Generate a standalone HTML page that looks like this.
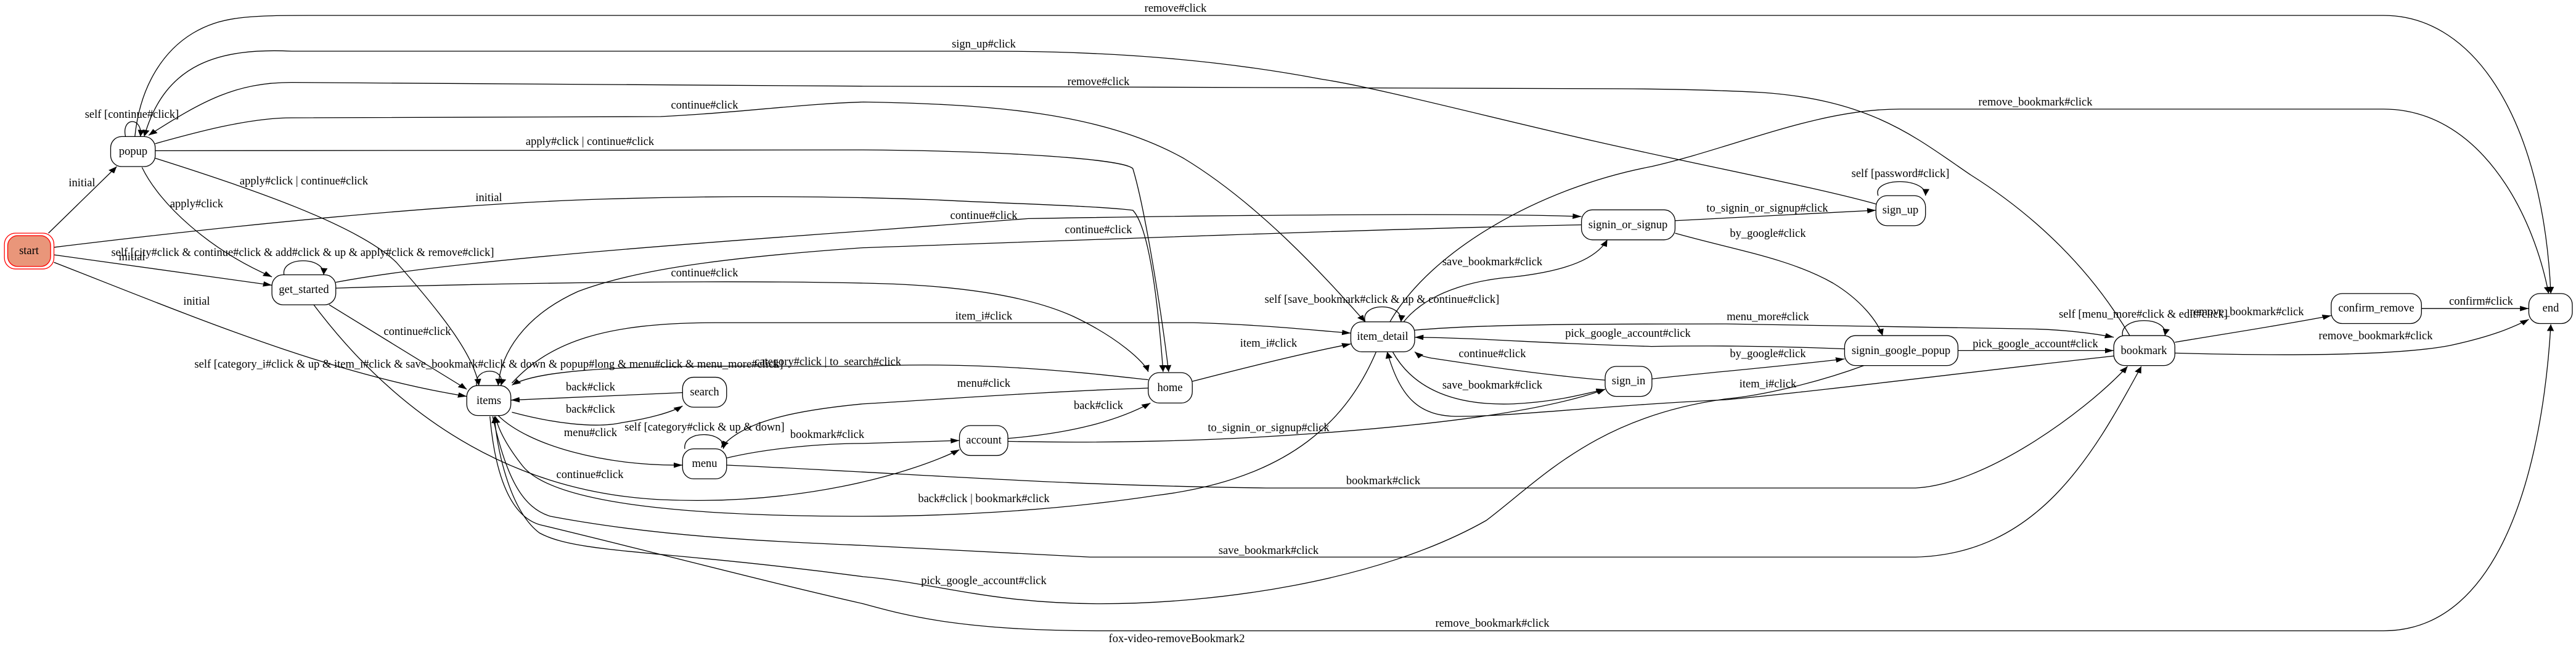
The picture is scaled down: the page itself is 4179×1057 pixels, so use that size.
<!DOCTYPE html>
<html><head><meta charset="utf-8"><style>
html,body{margin:0;padding:0;background:#fff;}
svg{display:block;}
text{font-family:"Liberation Serif",serif;font-size:18.5px;fill:#000;}
</style></head><body>
<svg width="4179" height="1057" viewBox="0 0 4179 1057" xmlns="http://www.w3.org/2000/svg">
<defs>
<marker id="a" viewBox="0 0 10 10" refX="10" refY="5" markerWidth="16" markerHeight="16" markerUnits="userSpaceOnUse" orient="auto"><path d="M0,1 L10,5 L0,9 z" fill="#000"/></marker>
</defs>
<rect width="4179" height="1057" fill="#fff"/>
<g transform="scale(0.893,0.675)" fill="none" stroke="#000">
<g stroke-width="1.3" vector-effect="non-scaling-stroke" marker-end="url(#a)">
<path vector-effect="non-scaling-stroke" d="M245,328 C255,200 300,120 350,80 C400,40 450,37 560,37 L4330,37 C4500,37 4620,300 4634,705"/>
<path vector-effect="non-scaling-stroke" d="M3408,490 C3300,450 3100,400 2900,340 C2700,280 2500,210 2400,190 C2200,140 2000,123 1800,123 L530,123 C400,115 300,150 262,328"/>
<path vector-effect="non-scaling-stroke" d="M3869,806 C3800,650 3700,520 3580,420 C3480,330 3400,240 3200,222 C3100,215 3000,213 2900,213 L1568,207 L530,198 C430,198 370,240 270,325"/>
<path vector-effect="non-scaling-stroke" d="M282,345 C350,320 450,283 530,283 L1200,280 C1350,270 1450,250 1568,245 C1800,250 2000,270 2150,380 C2300,500 2430,700 2480,773"/>
<path vector-effect="non-scaling-stroke" d="M282,362 L1568,360 C1800,362 2040,380 2058,405 C2080,500 2110,750 2123,893"/>
<path vector-effect="non-scaling-stroke" d="M98,594 C400,545 800,490 1100,478 C1300,470 1500,470 1700,480 C1850,490 2000,495 2058,505 C2090,550 2105,750 2113,893"/>
<path vector-effect="non-scaling-stroke" d="M282,380 C450,450 650,540 720,630 C800,750 860,850 870,926"/>
<path vector-effect="non-scaling-stroke" d="M258,402 C290,490 380,600 494,665"/>
<path vector-effect="non-scaling-stroke" d="M88,560 L212,400"/>
<path vector-effect="non-scaling-stroke" d="M98,612 L494,685"/>
<path vector-effect="non-scaling-stroke" d="M98,630 C350,760 600,900 848,952"/>
<path vector-effect="non-scaling-stroke" d="M516,660 C510,615 590,615 588,660"/>
<path vector-effect="non-scaling-stroke" d="M610,678 C800,630 1200,590 1568,555 L1868,525 C2300,515 2700,512 2873,520"/>
<path vector-effect="non-scaling-stroke" d="M2873,540 C2500,550 2000,575 1568,595 C1300,620 1150,650 1050,700 C950,760 910,850 905,926"/>
<path vector-effect="non-scaling-stroke" d="M610,692 C900,680 1300,672 1568,680 C1700,683 1850,700 1950,760 C2030,810 2080,870 2086,893"/>
<path vector-effect="non-scaling-stroke" d="M228,328 C220,280 260,280 255,328"/>
<path vector-effect="non-scaling-stroke" d="M598,732 L848,935"/>
<path vector-effect="non-scaling-stroke" d="M570,732 C700,960 900,1180 1200,1200 C1450,1215 1650,1140 1743,1080"/>
<path vector-effect="non-scaling-stroke" d="M930,920 C1000,820 1100,775 1300,775 L2168,775 C2300,780 2400,795 2454,800"/>
<path vector-effect="non-scaling-stroke" d="M2086,912 C2000,900 1800,866 1568,880 C1300,880 1000,870 930,925"/>
<path vector-effect="non-scaling-stroke" d="M866,926 C860,880 920,880 910,926"/>
<path vector-effect="non-scaling-stroke" d="M1240,943 L928,961"/>
<path vector-effect="non-scaling-stroke" d="M930,990 C1000,1015 1080,1030 1130,1015 C1180,1005 1220,990 1240,975"/>
<path vector-effect="non-scaling-stroke" d="M905,998 C960,1070 1100,1120 1240,1117"/>
<path vector-effect="non-scaling-stroke" d="M1244,1078 C1240,1030 1320,1035 1314,1078"/>
<path vector-effect="non-scaling-stroke" d="M2086,932 C1900,940 1700,960 1568,970 C1450,985 1350,1010 1310,1075"/>
<path vector-effect="non-scaling-stroke" d="M1320,1100 C1400,1075 1500,1065 1568,1065 L1743,1058"/>
<path vector-effect="non-scaling-stroke" d="M1320,1117 C1700,1140 1900,1165 2300,1172 L3480,1172 C3600,1165 3780,1000 3865,880"/>
<path vector-effect="non-scaling-stroke" d="M2500,845 C2450,1000 2350,1150 2100,1190 C1900,1230 1700,1240 1568,1240 C1200,1240 1000,1200 950,1120 C920,1070 905,1030 900,1000"/>
<path vector-effect="non-scaling-stroke" d="M895,1000 C920,1150 950,1220 1000,1240 C1200,1290 1400,1300 1568,1310 L1980,1338 L3480,1338 C3700,1330 3800,1100 3890,880"/>
<path vector-effect="non-scaling-stroke" d="M3386,878 C3300,920 3200,950 3136,958 C2900,1000 2800,1150 2700,1250 C2500,1400 2200,1450 2000,1450 C1800,1450 1700,1400 1568,1385 C1200,1320 1050,1330 980,1280 C930,1230 905,1100 898,1000"/>
<path vector-effect="non-scaling-stroke" d="M890,1000 C900,1150 930,1240 980,1260 C1200,1330 1400,1400 1568,1450 C1650,1480 1750,1515 2000,1515 L4330,1515 C4550,1515 4620,1100 4634,779"/>
<path vector-effect="non-scaling-stroke" d="M3043,530 L3408,505"/>
<path vector-effect="non-scaling-stroke" d="M3043,560 C3150,600 3250,620 3330,680 C3380,720 3410,770 3420,806"/>
<path vector-effect="non-scaling-stroke" d="M3412,470 C3400,425 3500,425 3498,470"/>
<path vector-effect="non-scaling-stroke" d="M2480,773 C2470,725 2550,725 2545,773"/>
<path vector-effect="non-scaling-stroke" d="M2550,773 C2600,690 2700,670 2750,665 C2850,650 2900,620 2920,576"/>
<path vector-effect="non-scaling-stroke" d="M2525,773 C2600,600 2800,450 3000,400 C3150,355 3300,262 3451,262 L4330,262 C4500,262 4600,500 4630,705"/>
<path vector-effect="non-scaling-stroke" d="M2570,793 C2700,778 2900,778 3136,778 L3690,790 C3750,792 3800,800 3840,810"/>
<path vector-effect="non-scaling-stroke" d="M3351,838 C3200,830 3100,830 3000,832 C2800,825 2700,812 2570,810"/>
<path vector-effect="non-scaling-stroke" d="M2916,913 C2800,900 2700,880 2600,860 C2580,855 2575,850 2570,845"/>
<path vector-effect="non-scaling-stroke" d="M3001,910 C3100,895 3200,885 3351,862"/>
<path vector-effect="non-scaling-stroke" d="M3840,855 C3600,890 3300,940 3136,960 C2900,975 2750,1000 2650,1000 C2580,1000 2545,960 2520,845"/>
<path vector-effect="non-scaling-stroke" d="M2530,845 C2570,940 2650,975 2750,970 C2830,965 2880,945 2916,935"/>
<path vector-effect="non-scaling-stroke" d="M3557,842 L3840,842"/>
<path vector-effect="non-scaling-stroke" d="M3856,806 C3850,758 3940,758 3933,806"/>
<path vector-effect="non-scaling-stroke" d="M3951,822 C4050,800 4150,780 4235,758"/>
<path vector-effect="non-scaling-stroke" d="M4399,741 L4594,741"/>
<path vector-effect="non-scaling-stroke" d="M3951,848 C4150,855 4350,855 4450,830 C4520,810 4560,790 4594,767"/>
<path vector-effect="non-scaling-stroke" d="M2166,916 C2300,870 2400,840 2454,826"/>
<path vector-effect="non-scaling-stroke" d="M1831,1053 C1950,1040 2030,1010 2090,968"/>
<path vector-effect="non-scaling-stroke" d="M1831,1060 C2000,1065 2200,1060 2400,1040 C2600,1020 2800,990 2916,935"/>
</g>
<g fill="#fff" stroke-width="1.3">
<rect vector-effect="non-scaling-stroke" x="8" y="560" width="90" height="86" rx="20" ry="27" stroke="#f00"/>
<rect vector-effect="non-scaling-stroke" x="14" y="566" width="78" height="74" rx="18" ry="24" stroke="#f00" fill="#E9967A"/>
<rect vector-effect="non-scaling-stroke" x="201" y="328" width="81" height="72" rx="20" ry="27"/>
<rect vector-effect="non-scaling-stroke" x="494" y="660" width="116" height="72" rx="20" ry="27"/>
<rect vector-effect="non-scaling-stroke" x="848" y="926" width="80" height="72" rx="20" ry="27"/>
<rect vector-effect="non-scaling-stroke" x="1240" y="906" width="80" height="72" rx="20" ry="27"/>
<rect vector-effect="non-scaling-stroke" x="1240" y="1078" width="80" height="72" rx="20" ry="27"/>
<rect vector-effect="non-scaling-stroke" x="2086" y="895" width="80" height="73" rx="20" ry="27"/>
<rect vector-effect="non-scaling-stroke" x="1743" y="1022" width="88" height="72" rx="20" ry="27"/>
<rect vector-effect="non-scaling-stroke" x="2454" y="773" width="116" height="72" rx="20" ry="27"/>
<rect vector-effect="non-scaling-stroke" x="2873" y="504" width="170" height="72" rx="20" ry="27"/>
<rect vector-effect="non-scaling-stroke" x="2916" y="880" width="85" height="72" rx="20" ry="27"/>
<rect vector-effect="non-scaling-stroke" x="3408" y="470" width="90" height="72" rx="20" ry="27"/>
<rect vector-effect="non-scaling-stroke" x="3351" y="806" width="206" height="72" rx="20" ry="27"/>
<rect vector-effect="non-scaling-stroke" x="3840" y="806" width="111" height="72" rx="20" ry="27"/>
<rect vector-effect="non-scaling-stroke" x="4235" y="705" width="164" height="72" rx="20" ry="27"/>
<rect vector-effect="non-scaling-stroke" x="4594" y="705" width="79" height="72" rx="20" ry="27"/>
</g>
</g>
<g text-anchor="middle" dominant-baseline="central">
<text x="47" y="407">start</text>
<text x="216" y="246">popup</text>
<text x="493" y="470">get_started</text>
<text x="793" y="650">items</text>
<text x="1143" y="636">search</text>
<text x="1143" y="752">menu</text>
<text x="1898" y="629">home</text>
<text x="1596" y="714">account</text>
<text x="2243" y="546">item_detail</text>
<text x="2641" y="365">signin_or_signup</text>
<text x="2642" y="618">sign_in</text>
<text x="3083" y="341">sign_up</text>
<text x="3084" y="569">signin_google_popup</text>
<text x="3478" y="569">bookmark</text>
<text x="3855" y="500">confirm_remove</text>
<text x="4138" y="500">end</text>

<text x="1907" y="14">remove#click</text>
<text x="1596" y="72">sign_up#click</text>
<text x="1782" y="133">remove#click</text>
<text x="1143" y="171">continue#click</text>
<text x="957" y="230">apply#click | continue#click</text>
<text x="793" y="321">initial</text>
<text x="493" y="294">apply#click | continue#click</text>
<text x="319" y="331">apply#click</text>
<text x="133" y="297">initial</text>
<text x="491" y="410">self [city#click &amp; continue#click &amp; add#click &amp; up &amp; apply#click &amp; remove#click]</text>
<text x="214" y="417">initial</text>
<text x="319" y="489">initial</text>
<text x="1596" y="350">continue#click</text>
<text x="1782" y="373">continue#click</text>
<text x="1143" y="443">continue#click</text>
<text x="214" y="186">self [continue#click]</text>
<text x="677" y="538">continue#click</text>
<text x="1596" y="513">item_i#click</text>
<text x="1343" y="587">category#click | to_search#click</text>
<text x="793" y="591">self [category_i#click &amp; up &amp; item_i#click &amp; save_bookmark#click &amp; down &amp; popup#long &amp; menu#click &amp; menu_more#click]</text>
<text x="958" y="628">back#click</text>
<text x="958" y="664">back#click</text>
<text x="958" y="702">menu#click</text>
<text x="1143" y="693">self [category#click &amp; up &amp; down]</text>
<text x="1596" y="622">menu#click</text>
<text x="1342" y="705">bookmark#click</text>
<text x="2244" y="780">bookmark#click</text>
<text x="957" y="770">continue#click</text>
<text x="1596" y="809">back#click | bookmark#click</text>
<text x="2058" y="893">save_bookmark#click</text>
<text x="1596" y="942">pick_google_account#click</text>
<text x="2421" y="1011">remove_bookmark#click</text>
<text x="2867" y="338">to_signin_or_signup#click</text>
<text x="2868" y="379">by_google#click</text>
<text x="3083" y="282">self [password#click]</text>
<text x="2242" y="486">self [save_bookmark#click &amp; up &amp; continue#click]</text>
<text x="2421" y="425">save_bookmark#click</text>
<text x="3302" y="166">remove_bookmark#click</text>
<text x="2868" y="514">menu_more#click</text>
<text x="2641" y="541">pick_google_account#click</text>
<text x="2421" y="574">continue#click</text>
<text x="2868" y="574">by_google#click</text>
<text x="2868" y="623">item_i#click</text>
<text x="3302" y="558">pick_google_account#click</text>
<text x="3477" y="510">self [menu_more#click &amp; edit#click]</text>
<text x="3645" y="506">remove_bookmark#click</text>
<text x="4025" y="489">confirm#click</text>
<text x="3854" y="545">remove_bookmark#click</text>
<text x="2058" y="557">item_i#click</text>
<text x="1782" y="658">back#click</text>
<text x="2058" y="694">to_signin_or_signup#click</text>
<text x="2421" y="625">save_bookmark#click</text>
<text x="1909" y="1036">fox-video-removeBookmark2</text>
</g>
</svg>
</body></html>
